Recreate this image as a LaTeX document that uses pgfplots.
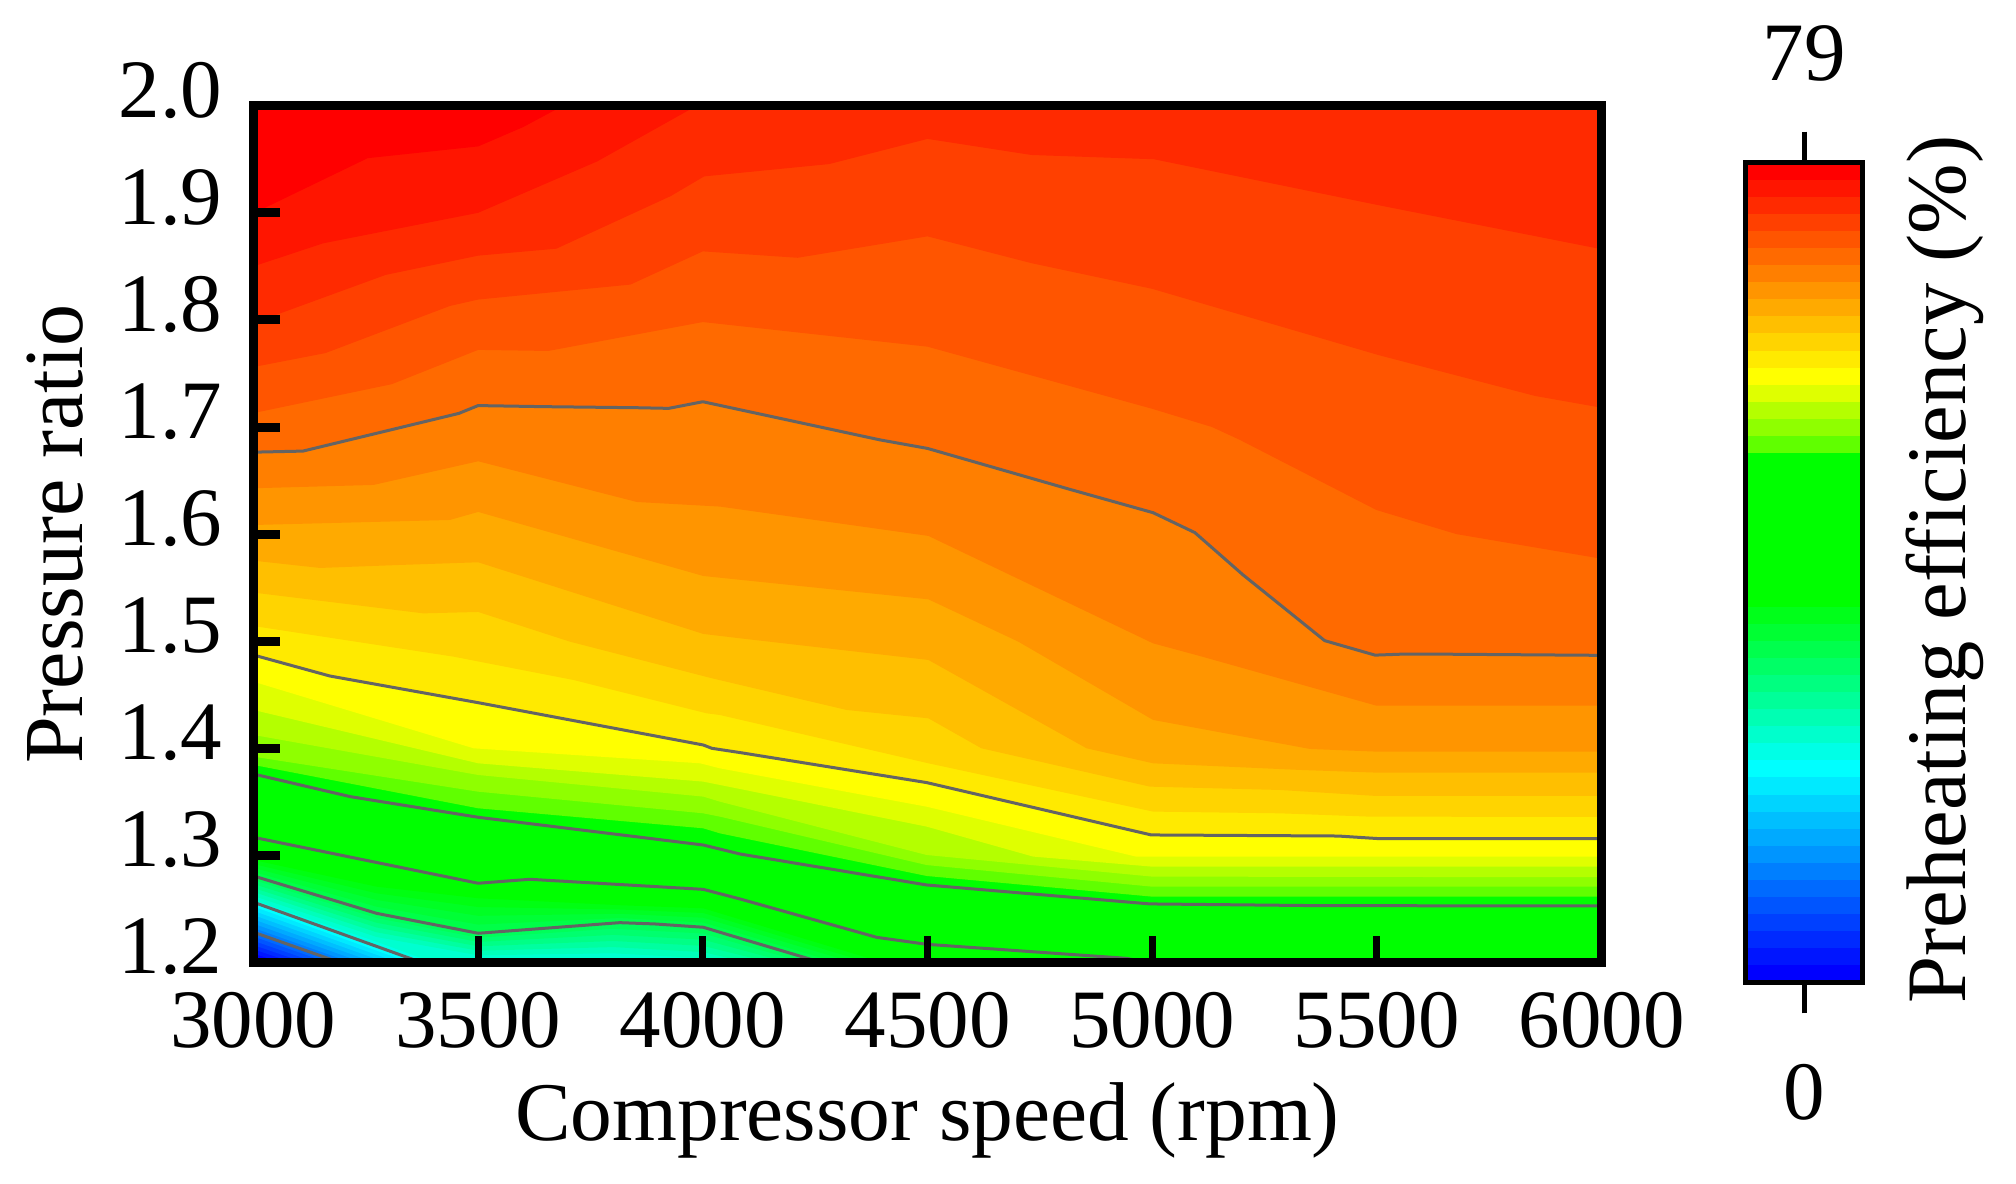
\documentclass[border=0pt]{standalone}
\usepackage{fontspec}
\setmainfont{Liberation Serif}
\usepackage{pgfplots}
\pgfplotsset{compat=1.18}
\newcommand{\dc}[1]{\definecolor{c#1}{HTML}{#1}}
\dc{FF0000}\dc{FF1500}\dc{FF2A00}\dc{FF4000}\dc{FF5500}\dc{FF6A00}\dc{FF7F00}\dc{FF9500}
\dc{FFAA00}\dc{FFBF00}\dc{FFD400}\dc{FFEA00}\dc{FFFF00}\dc{DFFF00}\dc{B4FF00}\dc{8FFF00}
\dc{60FF00}\dc{00FF00}\dc{00FF12}\dc{00FF24}\dc{00FF36}\dc{00FF48}\dc{00FF5A}\dc{00FF6E}
\dc{00FF86}\dc{00FFA0}\dc{00FFBA}\dc{00FFD0}\dc{00FFE6}\dc{00FFFF}\dc{00EAFF}\dc{00D4FF}
\dc{00BFFF}\dc{00AAFF}\dc{0095FF}\dc{007FFF}\dc{006AFF}\dc{0055FF}\dc{0040FF}\dc{002AFF}
\dc{0015FF}\dc{0000FF}\dc{00FF1A}\dc{00FF33}\dc{00FF4D}\dc{00FF66}\dc{00FF80}\dc{00FF99}
\dc{00FFB3}\dc{00FFCC}
\definecolor{contour}{HTML}{646464}
\newcommand{\bigfont}{\fontsize{41.5}{48}\selectfont}
% filled contour: the region above the boundary takes the colour
\newcommand{\band}[2]{\addplot[fill=c#1,draw=none,forget plot] coordinates {#2 (6000,2.05) (3000,2.05)} --cycle;}
\newcommand{\cb}[2]{\addplot[fill=c#1,draw=none,forget plot] coordinates {(0,0) (1,0) (1,#2) (0,#2)} --cycle;}
\newcommand{\gline}[1]{\addplot[color=contour,line width=1.5pt,line join=round,forget plot] coordinates {#1};}
\begin{document}
\begin{tikzpicture}
\path[use as bounding box] (-126.75pt,-110.25pt) rectangle (881.25pt,481.25pt);
\begin{axis}[
  at={(0pt,0pt)}, anchor=south west, scale only axis,
  width=674pt, height=428.4pt,
  xmin=3000, xmax=6000, ymin=1.2, ymax=2.0,
  axis on top, tick align=inside, major tick length=13.25pt,
  xtick pos=bottom, ytick pos=left,
  x axis line style={line width=3.5pt},
  y axis line style={line width=4.5pt},
  xtick style={line width=3.5pt,black},
  ytick style={line width=4.5pt,black},
  xtick={3000,3500,4000,4500,5000,5500,6000},
  xticklabels={3000,3500,4000,4500,5000,5500,6000},
  ytick={1.2,1.3,1.4,1.5,1.6,1.7,1.8,1.9,2.0},
  yticklabels={1.2,1.3,1.4,1.5,1.6,1.7,1.8,1.9,2.0},
  tick label style={font=\bigfont,inner sep=0pt,outer sep=0pt},
  xticklabel style={anchor=north,yshift=-15pt},
  yticklabel style={anchor=east,xshift=-15.5pt,yshift=7.8pt},
  xlabel={Compressor speed (rpm)},
  ylabel={Pressure ratio},
  xlabel style={font=\fontsize{41.7}{48}\selectfont,at={(axis description cs:0.5,-0.2072)},anchor=base},
  ylabel style={font=\fontsize{42}{48}\selectfont,at={(axis description cs:-0.1265,0.5)},anchor=base},
]
\band{0000FF}{(3000,1.2) (6000,1.2)}
\band{0015FF}{(3000,1.2083) (3062,1.2) (6000,1.2)}
\band{002AFF}{(3000,1.2123) (3088,1.2) (6000,1.2)}
\band{0040FF}{(3000,1.2163) (3114,1.2) (6000,1.2)}
\band{0055FF}{(3000,1.2203) (3140,1.2) (6000,1.2)}
\band{006AFF}{(3000,1.2243) (3166,1.2) (6000,1.2)}
\band{007FFF}{(3000,1.2283) (3192,1.2) (6000,1.2)}
\band{0095FF}{(3000,1.2323) (3218,1.2) (6000,1.2)}
\band{00AAFF}{(3000,1.2363) (3244,1.2) (6000,1.2)}
\band{00BFFF}{(3000,1.2403) (3270,1.2) (6000,1.2)}
\band{00D4FF}{(3000,1.2443) (3296,1.2) (6000,1.2)}
\band{00EAFF}{(3000,1.2483) (3322,1.2) (6000,1.2)}
\band{00FFFF}{(3000,1.2523) (3348,1.2) (6000,1.2)}
\band{00FFE6}{(3000,1.2563) (3374,1.2) (6000,1.2)}
\band{00FFD0}{(3000,1.2584) (3274,1.2194) (3400,1.2) (6000,1.2)}
\band{00FFBA}{(3000,1.2621) (3274,1.2238) (3500,1.2067) (3800,1.2086) (4001,1.204) (4040,1.2) (6000,1.2)}
\band{00FFA0}{(3000,1.2659) (3274,1.2282) (3500,1.211) (3800,1.2144) (4001,1.2097) (4100,1.2) (6000,1.2)}
\band{00FF86}{(3000,1.2696) (3274,1.2327) (3500,1.2151) (3800,1.2201) (4001,1.2155) (4150,1.2) (6000,1.2)}
\band{00FF6E}{(3000,1.2733) (3274,1.2371) (3500,1.2192) (3800,1.2258) (4001,1.2213) (4190,1.2) (6000,1.2)}
\band{00FF5A}{(3000,1.2771) (3274,1.2415) (3500,1.2232) (3800,1.2315) (4001,1.2271) (4225,1.2) (6000,1.2)}
\band{00FF48}{(3000,1.2808) (3274,1.2459) (3500,1.2273) (3815,1.2372) (3893,1.236) (4001,1.2329) (4083,1.2226) (4264,1.2) (6000,1.2)}
\band{00FF36}{(3000,1.2846) (3274,1.2521) (3500,1.2354) (3815,1.2415) (4001,1.2373) (4298,1.2) (6000,1.2)}
\band{00FF24}{(3000,1.2883) (3274,1.2584) (3500,1.2436) (3815,1.2455) (4001,1.2418) (4335,1.2) (6000,1.2)}
\band{00FF12}{(3000,1.292) (3274,1.2646) (3500,1.2518) (3815,1.2495) (4001,1.2462) (4368,1.2) (6000,1.2)}
\band{00FF00}{(3000,1.2957) (3274,1.2708) (3500,1.26) (3815,1.2535) (4001,1.2506) (4401,1.2) (6000,1.2)}
\band{60FF00}{(3000,1.3845) (3500,1.344) (4001,1.3253) (4038,1.3206) (4498,1.2808) (5000,1.2615) (6000,1.2615)}
\band{8FFF00}{(3000,1.3922) (3500,1.3595) (4001,1.3393) (4038,1.3362) (4498,1.291) (5000,1.2708) (6000,1.2708)}
\band{B4FF00}{(3000,1.4125) (3500,1.3751) (4001,1.3549) (4038,1.3502) (4498,1.3004) (5000,1.2802) (6000,1.2796)}
\band{DFFF00}{(3000,1.4358) (3500,1.386) (4001,1.3689) (4038,1.3658) (4498,1.3269) (4735,1.2989) (5000,1.2895) (6000,1.2895)}
\band{FFFF00}{(3000,1.4622) (3490,1.4) (3994,1.386) (4038,1.3813) (4498,1.3455) (4965,1.2988) (6000,1.2988)}
\band{FFEA00}{(3000,1.4871) (3170,1.4675) (3500,1.4426) (4001,1.4031) (4020,1.4) (4083,1.396) (4498,1.368) (4998,1.3191) (5414,1.3181) (5503,1.3157) (6000,1.3157)}
\band{FFD400}{(3000,1.5142) (3445,1.4856) (3712,1.4638) (4008,1.4327) (4038,1.4311) (4502,1.386) (5002,1.3409) (5284,1.3393) (5484,1.3362) (6000,1.3359)}
\band{FFBF00}{(3000,1.5454) (3378,1.526) (3500,1.5273) (3704,1.4996) (4020,1.4654) (4320,1.4358) (4502,1.428) (4620,1.4) (4995,1.3642) (5284,1.3611) (5499,1.3555) (6000,1.3555)}
\band{FFAA00}{(3000,1.5752) (3148,1.5684) (3326,1.5712) (3500,1.5737) (4001,1.5068) (4083,1.5027) (4502,1.4825) (4854,1.4) (5002,1.386) (5329,1.3798) (5499,1.3773) (6000,1.3773)}
\band{FF9500}{(3000,1.6085) (3437,1.6132) (3500,1.6207) (4001,1.5609) (4502,1.5391) (4702,1.4996) (5002,1.4265) (5351,1.3994) (5499,1.3969) (6000,1.3969)}
\band{FF7F00}{(3000,1.6428) (3267,1.6459) (3500,1.668) (3853,1.63) (4038,1.6257) (4502,1.5983) (5002,1.498) (5106,1.4862) (5499,1.4398) (6000,1.4398)}
\band{FF6A00}{(3000,1.6765) (3110,1.6775) (3457,1.7127) (3500,1.72) (3646,1.719) (3854,1.718) (3924,1.7174) (4000,1.7236) (4394,1.688) (4500,1.68) (4815,1.642) (5002,1.62) (5095,1.6014) (5202,1.562) (5384,1.5005) (5496,1.487) (5562,1.488) (5611,1.488) (6000,1.4868)}
\band{FF5500}{(3000,1.713) (3308,1.74) (3500,1.772) (3656,1.771) (4000,1.798) (4500,1.775) (5000,1.717) (5133,1.7) (5195,1.688) (5499,1.6225) (5677,1.6) (6000,1.577)}
\band{FF4000}{(3000,1.756) (3160,1.769) (3437,1.813) (3500,1.819) (3839,1.833) (4000,1.864) (4211,1.858) (4500,1.878) (4731,1.853) (5000,1.829) (5505,1.767) (5852,1.729) (6000,1.718)}
\band{FF2A00}{(3000,1.797) (3294,1.842) (3500,1.86) (3674,1.8665) (3929,1.9157) (4003,1.934) (4281,1.9455) (4500,1.969) (4731,1.954) (5004,1.95) (5505,1.907) (6000,1.866)}
\band{FF1500}{(3000,1.85) (3155,1.8715) (3500,1.9) (3765,1.948) (3978,1.998) (4000,2.01)}
\band{FF0000}{(3000,1.8995) (3254,1.951) (3500,1.962) (3600,1.98) (3680,1.998) (3700,2.01)}
\gline{(3000,1.6765) (3110,1.6775) (3457,1.7127) (3500,1.72) (3646,1.719) (3854,1.718) (3924,1.7174) (4000,1.7236) (4394,1.688) (4500,1.68) (4815,1.642) (5002,1.62) (5095,1.6014) (5202,1.562) (5384,1.5005) (5496,1.487) (5562,1.488) (5611,1.488) (6000,1.4868)}
\gline{(3000,1.4871) (3170,1.4675) (3500,1.4426) (4001,1.4031) (4020,1.4) (4083,1.396) (4498,1.368) (4998,1.3191) (5414,1.3181) (5503,1.3157) (6000,1.3157)}
\gline{(3000,1.376) (3215,1.3549) (3500,1.3356) (4001,1.3097) (4083,1.3013) (4498,1.2724) (4995,1.2547) (5366,1.2531) (6000,1.2528)}
\gline{(3000,1.3169) (3500,1.274) (3615,1.2777) (4001,1.2683) (4083,1.2593) (4387,1.2235) (4498,1.217) (4943,1.2039) (5000,1.199)}
\gline{(3000,1.2808) (3274,1.2459) (3500,1.2273) (3815,1.2372) (3893,1.236) (4001,1.2329) (4083,1.2226) (4264,1.2) (4300,1.195)}
\gline{(3000,1.2563) (3374,1.2) (3410,1.195)}
\gline{(3000,1.2283) (3192,1.2) (3228,1.195)}
\end{axis}
\begin{axis}[
  at={(746pt,-9.95pt)}, anchor=south west, scale only axis,
  width=58.6pt, height=409.85pt,
  xmin=0, xmax=1, ymin=0, ymax=79,
  axis on top, axis line style={line width=2.35pt},
  tick align=outside, major tick length=15.5pt,
  xtick={0.5}, xticklabels={}, xtick pos=both, ytick=\empty,
  xtick style={line width=2.5pt,black},
  every axis title shift=0pt,
  title={79}, xlabel={0}, ylabel={Preheating efficiency (\%)},
  title style={font=\bigfont,at={(axis description cs:0.5,1.1)},anchor=base},
  xlabel style={font=\bigfont,at={(axis description cs:0.5,-0.1671)},anchor=base},
  ylabel style={font=\fontsize{42.3}{48}\selectfont,at={(axis description cs:1.879,0.5037)},anchor=base},
]
\cb{FF0000}{79}\cb{FF1500}{77.354}\cb{FF2A00}{75.708}\cb{FF4000}{74.063}
\cb{FF5500}{72.417}\cb{FF6A00}{70.771}\cb{FF7F00}{69.125}\cb{FF9500}{67.479}
\cb{FFAA00}{65.833}\cb{FFBF00}{64.188}\cb{FFD400}{62.542}\cb{FFEA00}{60.896}
\cb{FFFF00}{59.25}\cb{DFFF00}{57.604}\cb{B4FF00}{55.958}\cb{8FFF00}{54.313}
\cb{60FF00}{52.667}\cb{00FF00}{51.021}
\cb{00FF1A}{36.208}\cb{00FF33}{34.563}\cb{00FF4D}{32.917}\cb{00FF66}{31.271}
\cb{00FF80}{29.625}\cb{00FF99}{27.979}\cb{00FFB3}{26.333}\cb{00FFCC}{24.688}
\cb{00FFE6}{23.042}\cb{00FFFF}{21.396}\cb{00EAFF}{19.75}\cb{00D4FF}{18.104}
\cb{00BFFF}{16.458}\cb{00AAFF}{14.813}\cb{0095FF}{13.167}\cb{007FFF}{11.521}
\cb{006AFF}{9.875}\cb{0055FF}{8.229}\cb{0040FF}{6.583}\cb{002AFF}{4.938}
\cb{0015FF}{3.292}\cb{0000FF}{1.646}
\end{axis}
\end{tikzpicture}
\end{document}
